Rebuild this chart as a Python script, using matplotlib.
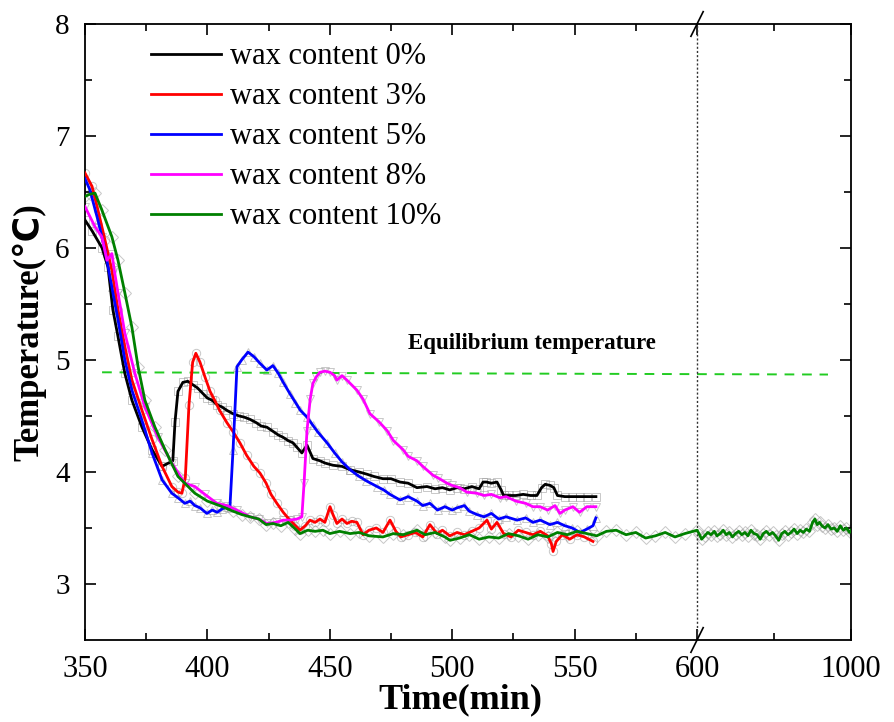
import numpy as np
import matplotlib
matplotlib.use("Agg")
from matplotlib import pyplot as plt

plt.rcParams["font.family"] = ["Liberation Serif", "DejaVu Sans"]

# ---- data (time in min, temperature in degC) ----
t_0 = [350, 353, 357, 359.4, 361.4, 363.5, 366.3, 369.2, 373.3, 377.4, 381.5, 385.9, 386.8, 388,
       390, 392, 394, 396, 398.2, 400, 402, 404, 406, 408, 410.5, 413, 415, 417.4, 420, 422, 424.3,
       427, 429, 430.9, 433, 435, 436.6, 438.6, 440.7, 443.1, 446, 448, 451.3, 455, 458.3, 462,
       465.2, 468, 471.7, 475, 478.7, 482, 485.6, 489.7, 493, 496, 499, 502, 505, 508, 511, 512.6,
       514, 516, 518.3, 520, 521, 523, 526, 529, 532, 534.6, 536.5, 538, 540, 541.5, 543, 546, 549,
       552, 555, 558.7]
T_0 = [6.25, 6.15, 6.0, 5.83, 5.45, 5.21, 4.88, 4.64, 4.40, 4.20, 4.05, 4.10, 4.45, 4.72,
       4.80, 4.81, 4.78, 4.75, 4.70, 4.66, 4.64, 4.60, 4.58, 4.55, 4.52, 4.50, 4.49, 4.47, 4.44, 4.41, 4.40,
       4.36, 4.33, 4.31, 4.28, 4.26, 4.22, 4.17, 4.24, 4.12, 4.10, 4.08, 4.06, 4.05, 4.02, 4.00,
       3.98, 3.96, 3.94, 3.94, 3.91, 3.90, 3.86, 3.87, 3.85, 3.86, 3.84, 3.86, 3.85, 3.87, 3.85, 3.91,
       3.91, 3.90, 3.91, 3.84, 3.79, 3.79, 3.79, 3.80, 3.79, 3.79, 3.86, 3.89, 3.88, 3.86, 3.79, 3.78, 3.78,
       3.78, 3.78, 3.78]

t_3 = [350, 352.9, 355.3, 358.2, 361, 363.5, 366.3, 369.2, 373.3, 377.4, 381.5, 385.5, 388, 389.6,
       391, 392.5, 394, 395.3, 397, 399, 401.1, 403, 405, 408, 410.5, 413.3, 416, 419, 421.5, 424,
       426, 428.4, 431, 433.7, 436, 437.8, 440, 441.9, 444, 446, 448, 450.1, 451.3, 452.9, 455, 457,
       459, 461.1, 463.6, 466, 469, 471.7, 474.6, 477, 479, 482, 485, 488, 490.9, 493.8, 496, 499,
       502, 505, 508, 511, 514.2, 516, 518.3, 521, 524, 527, 530, 533, 536, 539, 540.5, 541.2, 542.5,
       545, 548, 551, 554, 557.5]
T_3 = [6.67, 6.55, 6.34, 6.07, 5.80, 5.45, 5.12, 4.82, 4.55, 4.29, 4.05, 3.87, 3.82, 3.81,
       3.95, 4.60, 4.98, 5.06, 4.98, 4.85, 4.72, 4.64, 4.55, 4.44, 4.36, 4.26, 4.15, 4.05, 3.99, 3.90,
       3.80, 3.72, 3.64, 3.57, 3.52, 3.48, 3.52, 3.57, 3.55, 3.58, 3.55, 3.69, 3.62, 3.54, 3.58, 3.54,
       3.56, 3.55, 3.44, 3.48, 3.50, 3.46, 3.57, 3.47, 3.42, 3.44, 3.46, 3.42, 3.53, 3.45, 3.48, 3.43,
       3.46, 3.44, 3.47, 3.50, 3.57, 3.49, 3.55, 3.45, 3.42, 3.48, 3.46, 3.44, 3.47, 3.43, 3.36, 3.29, 3.38,
       3.44, 3.40, 3.44, 3.42, 3.38]

t_5 = [350, 352, 355.3, 358.2, 361, 363.5, 366.3, 369.2, 373.3, 377.4, 381.5, 385.5, 388, 390.8,
       393, 394.9, 397, 399.8, 402, 404, 406, 408, 409.2, 410.5, 412.1, 414, 416.6, 419, 421.5, 424.3,
       426.8, 429, 431, 433.7, 436, 438, 440.7, 443, 445, 448.9, 452, 455, 458.3, 462, 465, 469.3,
       472, 474.6, 478.7, 482, 485.6, 488, 490.9, 494, 497, 500, 502, 505, 507, 510.1, 513, 516, 519,
       522, 526.5, 530, 533, 536, 539.9, 543, 546, 549, 552.2, 555, 557.5, 558.7]
T_5 = [6.62, 6.52, 6.25, 5.98, 5.65, 5.36, 5.00, 4.73, 4.46, 4.17, 3.93, 3.81, 3.77, 3.72,
       3.74, 3.70, 3.68, 3.63, 3.66, 3.64, 3.67, 3.69, 3.68, 4.20, 4.94, 5.00, 5.07, 5.03, 4.97, 4.91,
       4.95, 4.88, 4.80, 4.70, 4.62, 4.55, 4.49, 4.42, 4.36, 4.26, 4.17, 4.09, 4.02, 3.96, 3.92, 3.87,
       3.84, 3.80, 3.75, 3.78, 3.74, 3.70, 3.72, 3.66, 3.69, 3.66, 3.68, 3.70, 3.65, 3.62, 3.60, 3.63, 3.58,
       3.60, 3.57, 3.59, 3.55, 3.57, 3.53, 3.55, 3.52, 3.50, 3.46, 3.49, 3.52, 3.59]

t_8 = [350, 354.1, 356.9, 359, 361, 362, 363.5, 366.3, 370.4, 374.5, 379.8, 385.5, 390.8, 394.9,
       399, 403.9, 408, 412, 417.4, 421, 424.3, 428, 431, 433.7, 436.6, 438.6, 439.5, 440.7, 442,
       443.1, 444.5, 446, 448, 450.1, 452, 452.9, 455, 457, 461.1, 463.6, 466.4, 470, 473.4, 476,
       479.9, 482, 485.6, 488, 492.2, 494, 497.9, 500, 503, 506, 510.1, 513, 516, 519.5, 522, 526,
       530, 533, 535.9, 539, 542, 544, 546, 549.3, 552, 555, 558.7]
T_8 = [6.37, 6.19, 6.10, 5.89, 5.95, 5.80, 5.60, 5.24, 4.88, 4.58, 4.31, 4.08, 3.90, 3.87,
       3.80, 3.72, 3.70, 3.66, 3.60, 3.58, 3.54, 3.55, 3.57, 3.57, 3.58, 3.60, 3.90, 4.37, 4.65,
       4.79, 4.85, 4.89, 4.90, 4.89, 4.86, 4.82, 4.86, 4.82, 4.73, 4.65, 4.52, 4.45, 4.37, 4.28,
       4.20, 4.14, 4.10, 4.05, 3.97, 3.95, 3.90, 3.88, 3.86, 3.82, 3.81, 3.79, 3.80, 3.77, 3.78, 3.74,
       3.72, 3.69, 3.69, 3.66, 3.70, 3.63, 3.66, 3.69, 3.64, 3.69, 3.69]

t_10 = [350, 352, 354.1, 356.9, 361, 363.5, 366.3, 369.2, 371.7, 374.5, 378.6, 382.7, 388, 394.9,
        400, 405, 410.5, 414, 417.4, 421, 424, 426.8, 430, 433, 436, 437.8, 441, 444, 447.2, 450,
        454, 458.3, 462, 466, 471.7, 476, 480, 485.6, 489, 493, 497, 499.1, 503, 507, 511, 515, 519,
        523, 527, 531, 535, 539, 543, 547, 551, 555, 559, 563, 567, 571, 575, 579, 583, 587, 591, 595,
        600, 605, 612, 620, 628, 636, 645, 652, 660, 668, 676, 684, 692, 700, 708, 716, 724, 732,
        740, 748, 756, 764, 772, 780, 788, 796, 804, 812, 820, 828, 836, 844, 852, 860, 868, 876,
        884, 892, 900, 906, 912, 918, 924, 932, 940, 948, 956, 964, 972, 980, 988, 996, 1000]
T_10 = [6.46, 6.48, 6.49, 6.34, 6.10, 5.89, 5.60, 5.29, 4.94, 4.64, 4.40, 4.20, 3.96, 3.81,
        3.74, 3.70, 3.65, 3.62, 3.60, 3.58, 3.53, 3.54, 3.52, 3.55, 3.49, 3.45, 3.48, 3.47, 3.48, 3.45,
        3.47, 3.45, 3.46, 3.43, 3.42, 3.45, 3.44, 3.48, 3.44, 3.46, 3.42, 3.39, 3.41, 3.44, 3.40, 3.42,
        3.41, 3.45, 3.43, 3.40, 3.44, 3.42, 3.46, 3.44, 3.47, 3.45, 3.43, 3.47, 3.48, 3.44, 3.46, 3.41,
        3.43, 3.46, 3.42, 3.45, 3.48, 3.45, 3.40, 3.43, 3.46, 3.44, 3.47, 3.43, 3.45, 3.48, 3.44, 3.46,
        3.42, 3.45, 3.47, 3.44, 3.46, 3.43, 3.48, 3.45, 3.44, 3.40, 3.45, 3.47, 3.44, 3.46, 3.43, 3.39,
        3.45, 3.47, 3.44, 3.46, 3.49, 3.45, 3.48, 3.46, 3.49, 3.47, 3.55, 3.58, 3.53, 3.55, 3.52, 3.50,
        3.53, 3.49, 3.50, 3.47, 3.52, 3.48, 3.50, 3.46, 3.48]

labels = ["wax content 0%", "wax content 3%", "wax content 5%", "wax content 8%", "wax content 10%"]
colors = ["#000000", "#ff0000", "#0000ff", "#ff00ff", "#008000"]
markers = ["s", "o", "^", "v", "D"]

eq_t = [357, 940]
eq_T = [4.89, 4.87]

x_ticks = [350, 400, 450, 500, 550, 600, 1000]
x_minor = [375, 425, 475, 525, 575, 800]
y_ticks = [3, 4, 5, 6, 7, 8]
y_minor = [3.5, 4.5, 5.5, 6.5, 7.5]

# broken x axis: 600-1000 squeezed
K = 0.1573


def fwd(x):
    x = np.asarray(x, dtype=float)
    return np.where(x <= 600, x, 600 + (x - 600) * K)


def inv(y):
    y = np.asarray(y, dtype=float)
    return np.where(y <= 600, y, 600 + (y - 600) / K)


fig = plt.figure(figsize=(8.94, 7.22), dpi=100)
ax = fig.add_axes([0.095, 0.1136, 0.857, 0.8532])
ax.set_xscale("function", functions=(fwd, inv))

series = [(t_0, T_0), (t_3, T_3), (t_5, T_5), (t_8, T_8), (t_10, T_10)]
for (t, T), m in zip(series, markers):
    ax.plot(t, T, linestyle="none", marker=m, ms=6, mfc="none", mec="#9a9a9a",
            mew=0.7, alpha=0.55, zorder=1)
for (t, T), c, lab in zip(series, colors, labels):
    ax.plot(t, T, color=c, lw=2.0, label=lab, zorder=3)

ax.plot(eq_t, eq_T, color="#22cc22", lw=1.4, linestyle=(0, (5, 4)), zorder=2)
ax.text(482, 5.15, "Equilibrium temperature", fontsize=16.5, fontweight="bold", ha="left", va="center")

# break marker at 600
ax.axvline(600, color="#333333", lw=1.0, linestyle=(0, (1.5, 1.5)), zorder=2)
xb = (697 - 85) / 766
for yb in (0, 1):
    ax.plot([xb - 0.008, xb + 0.008], [yb - 0.02, yb + 0.02], transform=ax.transAxes,
            color="black", lw=1.2, clip_on=False, zorder=5)

ax.set_xlim(350, 1000)
ax.set_ylim(2.5, 8)
ax.set_xticks(x_ticks)
ax.set_xticklabels([str(v) for v in x_ticks])
ax.set_xticks(x_minor, minor=True)
ax.set_yticks(y_ticks)
ax.set_yticks(y_minor, minor=True)
ax.tick_params(which="both", direction="in", top=True, right=True, width=1.2)
ax.tick_params(which="major", length=8)
ax.tick_params(which="minor", length=5)
ax.tick_params(axis="x", pad=11, labelsize=22)
ax.tick_params(axis="y", pad=11, labelsize=21)
for s in ax.spines.values():
    s.set_linewidth(1.3)

ax.set_xlabel("Time(min)", fontsize=26, fontweight="bold")
ax.xaxis.set_label_coords(0.49, -0.07)
ax.set_ylabel("Temperature(℃)", fontsize=25, fontweight="bold")
ax.yaxis.set_label_coords(-0.05, 0.5)

ax.legend(loc="upper left", bbox_to_anchor=(0.07, 0.99), frameon=False, fontsize=22,
          handlelength=2.3, handletextpad=0.3, labelspacing=0.36, borderaxespad=0)

fig.savefig("out.png", dpi=100)
